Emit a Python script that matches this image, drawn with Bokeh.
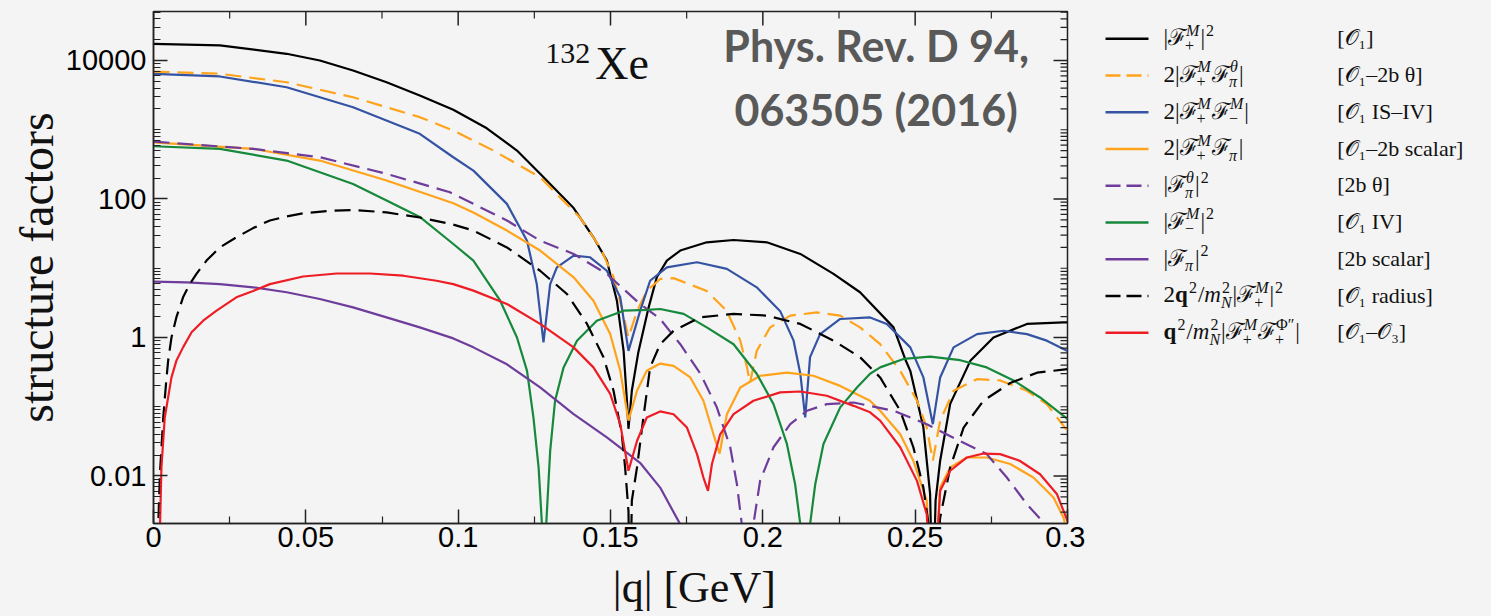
import numpy as np
from bokeh.plotting import figure
from bokeh.models import (Range1d, FixedTicker, Label, ColumnDataSource, CustomJSTickFormatter)
from bokeh.layouts import row, column
from bokeh.embed import file_html
from bokeh.resources import INLINE
from bokeh.core.properties import value, field

BG = "#f4f4f4"

# ---------------- data ----------------
q_Fp2 = [0, 0.0218, 0.0437, 0.0546, 0.0655, 0.0765, 0.0874, 0.0984, 0.1094, 0.1193, 0.1269, 0.1379,
         0.1444, 0.1488, 0.1521, 0.1543, 0.1554, 0.1559, 0.157, 0.1591, 0.1625, 0.1652, 0.1685, 0.1729,
         0.1816, 0.1904, 0.2013, 0.2123, 0.2232, 0.2319, 0.2429, 0.2467, 0.2484, 0.2527, 0.2549, 0.2558,
         0.2567, 0.2582, 0.2615, 0.2681, 0.2757, 0.2867, 0.2987, 0.3]
v_Fp2 = [17400, 16500, 12500, 10000, 7160, 4850, 3120, 1940, 1050, 500, 231, 74,
         28, 12.9, 3.4, 0.64, 0.122, 0.048, 0.17, 0.60, 2.7, 7.4, 12.9, 18,
         23.7, 25.6, 23.7, 16.1, 8.3, 4.5, 1.40, 0.49, 0.33, 0.05, 0.0055, 0.0001,
         0.0044, 0.0166, 0.11, 0.46, 1.0, 1.57, 1.65, 1.65]

q_FpFth = [0, 0.0218, 0.0437, 0.0655, 0.0874, 0.0984, 0.1116, 0.1269, 0.14, 0.1466, 0.151, 0.1537,
           0.1559, 0.1587, 0.1619, 0.1663, 0.1707, 0.1816, 0.1882, 0.1926, 0.1948, 0.1958, 0.198,
           0.2024, 0.209, 0.2177, 0.2254, 0.2319, 0.2385, 0.2451, 0.2506, 0.2538, 0.2558, 0.2582,
           0.2626, 0.2703, 0.2779, 0.2867, 0.2932, 0.2987, 0.3]
v_FpFth = [6930, 6430, 4850, 2950, 1520, 973, 500, 206, 54, 20, 7.4, 2.7,
           1.0, 2.4, 4.7, 7.0, 7.2, 4.7, 2.4, 0.90, 0.37, 0.22, 0.64,
           1.40, 2.07, 2.3, 2.07, 1.40, 0.80, 0.33, 0.122, 0.050, 0.0166, 0.063,
           0.17, 0.25, 0.24, 0.17, 0.109, 0.053, 0.045]

q_FpFm = [0, 0.0218, 0.0437, 0.0655, 0.0874, 0.0984, 0.105, 0.116, 0.1226, 0.1258, 0.128, 0.1302,
          0.1324, 0.1379, 0.1433, 0.1488, 0.1532, 0.1559, 0.1597, 0.163, 0.1685, 0.1784, 0.1882,
          0.198, 0.2057, 0.2101, 0.2123, 0.2139, 0.2155, 0.2188, 0.2254, 0.2352, 0.2407, 0.2484,
          0.2527, 0.2558, 0.2582, 0.2626, 0.2703, 0.279, 0.2867, 0.2932, 0.3]
v_FpFm = [6430, 5880, 4110, 2110, 873, 401, 257, 85, 25, 5.9, 0.85, 5.9,
          10.3, 15.2, 14.4, 9.2, 3.8, 0.64, 2.4, 6.6, 10.3, 12.2, 9.8,
          5.3, 2.4, 0.90, 0.30, 0.070, 0.52, 1.12, 1.85, 1.95, 1.57, 0.72,
          0.265, 0.056, 0.265, 0.72, 1.12, 1.25, 1.12, 0.90, 0.64]

q_FpFpi = [0, 0.0327, 0.0546, 0.0765, 0.0984, 0.105, 0.116, 0.1269, 0.1379, 0.1444, 0.1499, 0.1532,
           0.1559, 0.1587, 0.1619, 0.1663, 0.1707, 0.1762, 0.1805, 0.1838, 0.1858, 0.1882, 0.1926,
           0.1991, 0.2079, 0.2166, 0.2254, 0.2352, 0.2385, 0.2451, 0.2494, 0.2538, 0.2558, 0.2582,
           0.2615, 0.267, 0.2735, 0.2812, 0.2888, 0.2954, 0.2987, 0.3]
v_FpFpi = [659, 530, 359, 185, 87, 64, 35, 18, 7.4, 3.4, 1.12, 0.33,
           0.063, 0.17, 0.33, 0.42, 0.39, 0.265, 0.122, 0.040, 0.021, 0.078, 0.19,
           0.28, 0.31, 0.28, 0.20, 0.122, 0.0875, 0.040, 0.0166, 0.0044, 0.0001, 0.0068,
           0.0133, 0.0185, 0.0185, 0.0149, 0.0095, 0.0049, 0.0025, 0.0015]

q_Fth2 = [0, 0.0327, 0.0546, 0.0765, 0.0973, 0.105, 0.116, 0.1269, 0.1379, 0.1488, 0.1597, 0.1663,
          0.1729, 0.1795, 0.1849, 0.1893, 0.1915, 0.1931, 0.1949, 0.1969, 0.1991, 0.2035, 0.209,
          0.2145, 0.221, 0.2298, 0.2429, 0.2538, 0.2647, 0.2735, 0.2801, 0.2867, 0.2916, 0.2943]
v_Fth2 = [675, 530, 401, 231, 125, 85, 49, 25, 16.1, 8.3, 3.05, 1.85,
          0.80, 0.30, 0.098, 0.026, 0.0076, 0.002, 0.0001, 0.002, 0.0085, 0.026, 0.056,
          0.0875, 0.109, 0.115, 0.0875, 0.056, 0.032, 0.0207, 0.0095, 0.0039, 0.00225, 0.0015]

q_Fm2 = [0, 0.0218, 0.0437, 0.0655, 0.0765, 0.0874, 0.0984, 0.105, 0.1138, 0.1193, 0.1226, 0.1247,
         0.1264, 0.1275, 0.1282, 0.1289, 0.1302, 0.1318, 0.1346, 0.139, 0.1455, 0.1543, 0.1619,
         0.1663, 0.174, 0.1816, 0.1904, 0.198, 0.2035, 0.2079, 0.2106, 0.2123, 0.2139, 0.2155,
         0.2172, 0.2199, 0.2254, 0.2309, 0.2352, 0.2385, 0.2462, 0.2549, 0.2648, 0.2735, 0.2823,
         0.291, 0.2987, 0.3]
v_Fm2 = [578, 530, 359, 165, 95, 55, 22.4, 12.9, 3.4, 1.0, 0.33, 0.070,
         0.0133, 0.002, 0.0001, 0.002, 0.023, 0.122, 0.37, 0.90, 1.75, 2.44, 2.5,
         2.58, 2.19, 1.40, 0.80, 0.30, 0.109, 0.029, 0.0076, 0.002, 0.0001, 0.002,
         0.0076, 0.029, 0.098, 0.19, 0.30, 0.37, 0.49, 0.53, 0.47, 0.37, 0.24,
         0.136, 0.074, 0.066]

q_Fpi2 = [0, 0.0108, 0.0218, 0.0327, 0.0437, 0.0546, 0.0655, 0.0765, 0.0874, 0.0984, 0.105, 0.116,
          0.1269, 0.1379, 0.1488, 0.1597, 0.1663, 0.1729, 0.1762]
v_Fpi2 = [6.4, 6.25, 5.9, 5.3, 4.5, 3.6, 2.72, 1.95, 1.40, 0.97, 0.72, 0.41,
          0.19, 0.078, 0.036, 0.0155, 0.0068, 0.002, 0.001]

q_rad = [0.0008, 0.0015, 0.0021, 0.0032, 0.0041, 0.0048, 0.0059, 0.0075, 0.0097, 0.0119, 0.0141,
         0.0174, 0.0218, 0.0272, 0.0327, 0.0382, 0.0437, 0.0491, 0.0568,
         0.0655, 0.0765, 0.0874, 0.0984, 0.105, 0.116, 0.1269, 0.1357, 0.1423, 0.1477, 0.151,
         0.1537, 0.1548, 0.1559, 0.1564, 0.157, 0.1587, 0.1608, 0.163, 0.1663, 0.1707, 0.1794,
         0.1904, 0.2013, 0.2123, 0.2232, 0.2319, 0.2385, 0.2451, 0.2494, 0.2527, 0.2544, 0.2558,
         0.2582, 0.2615, 0.2659, 0.2724, 0.2812, 0.29, 0.3]
v_rad = [0.0005, 0.0016, 0.0106, 0.070, 0.213, 0.46, 1.0, 1.95, 3.8, 5.9, 8.3,
         12.9, 20, 28, 38, 49, 56, 62, 67,
         69.5, 64, 54, 42.7, 35, 20, 9.2, 4.25, 1.57, 0.52, 0.17,
         0.040, 0.0133, 0.0031, 0.0001, 0.0044, 0.0133, 0.070, 0.37, 0.80, 1.25, 1.95,
         2.19, 2.07, 1.57, 0.90, 0.52, 0.265, 0.0875, 0.026, 0.0068, 0.002, 0.0001,
         0.0025, 0.0133, 0.050, 0.122, 0.22, 0.31, 0.35]

q_O3 = [0.0012, 0.0021, 0.0026, 0.0037, 0.0059, 0.0075, 0.0097, 0.0125, 0.0163, 0.0207, 0.0272,
        0.0327, 0.0382, 0.0491, 0.0601,
        0.071, 0.082, 0.0929, 0.0984, 0.105, 0.116, 0.1269, 0.1379, 0.1444, 0.1499, 0.1532,
        0.1559, 0.1587, 0.1619, 0.1663, 0.1707, 0.1751, 0.1784, 0.1805, 0.182, 0.1833, 0.186,
        0.1904, 0.1969, 0.2057, 0.2123, 0.221, 0.2298, 0.2352, 0.2385, 0.2451, 0.2506, 0.2538,
        0.2558, 0.2582, 0.2615, 0.267, 0.2724, 0.2779, 0.2843, 0.291, 0.2965, 0.3]
v_O3 = [0.0004, 0.0016, 0.0133, 0.070, 0.265, 0.46, 0.72, 1.19, 1.75, 2.44, 3.8,
        4.7, 5.9, 7.6, 8.4,
        8.4, 7.8, 6.6, 5.9, 4.75, 3.05, 1.57, 0.72, 0.37, 0.153, 0.056,
        0.0119, 0.032, 0.070, 0.0855, 0.078, 0.050, 0.0207, 0.0095, 0.0061, 0.0149, 0.040,
        0.078, 0.122, 0.161, 0.166, 0.144, 0.103, 0.083, 0.063, 0.026, 0.0085, 0.0028,
        0.0001, 0.0061, 0.0119, 0.0185, 0.0211, 0.0207, 0.0166, 0.0106, 0.0055, 0.00225]

x_ticks = [0, 0.05, 0.1, 0.15, 0.2, 0.25, 0.3]
x_minor = [0.025, 0.075, 0.125, 0.175, 0.225, 0.275]
y_ticks = [0.01, 1, 100, 10000]

col2_labels = ["[𝒪₁]", "[𝒪₁–2b θ]", "[𝒪₁ IS–IV]", "[𝒪₁–2b scalar]", "[2b θ]",
               "[𝒪₁ IV]", "[2b scalar]", "[𝒪₁ radius]", "[𝒪₁–𝒪₃]"]

series = [
    (q_Fp2, v_Fp2, "#000000", "solid"),
    (q_FpFth, v_FpFth, "#FFA31A", "16 8"),
    (q_FpFm, v_FpFm, "#3553A3", "solid"),
    (q_FpFpi, v_FpFpi, "#FFA31A", "solid"),
    (q_Fth2, v_Fth2, "#6E3D9B", "16 8"),
    (q_Fm2, v_Fm2, "#16893B", "solid"),
    (q_Fpi2, v_Fpi2, "#6E3D9B", "solid"),
    (q_rad, v_rad, "#000000", "16 8"),
    (q_O3, v_O3, "#EE1D25", "solid"),
]

# ---------------- main plot ----------------
X0, X1 = 0.0, 0.3
Y0, Y1 = 0.00206, 51000
FW, FH = 914, 512
PW, PH = 1085, 562
SH = 0.36  # baseline correction (fraction of font size)
dec_per_px = (np.log10(Y1) - np.log10(Y0)) / FH
q_per_px = (X1 - X0) / FW


def up(yv, px):
    return yv * 10 ** (px * dec_per_px)


p = figure(width=PW, height=PH, x_range=Range1d(X0, X1), y_range=Range1d(Y0, Y1),
           y_axis_type="log", output_backend="svg", toolbar_location=None, title_location=None,
           min_border_left=153, min_border_right=18, min_border_top=11, min_border_bottom=PH - 523,
           background_fill_color=BG, border_fill_color=BG)
p.grid.visible = False
p.outline_line_color = "#222222"
p.outline_line_width = 1.5

for qs, vs, col, dash in series:
    p.line(qs, vs, line_color=col, line_width=2.2, line_dash=dash)

y_minor = []
for k in range(-3, 5):
    for m in range(1, 10):
        t = m * 10.0 ** k
        if t not in y_ticks and Y0 <= t <= Y1:
            y_minor.append(t)


def style_axis(ax):
    ax.major_tick_in = 14
    ax.major_tick_out = 0
    ax.minor_tick_in = 7
    ax.minor_tick_out = 0
    ax.axis_line_color = "#222222"
    ax.axis_line_width = 1.5
    ax.major_tick_line_color = "#222222"
    ax.minor_tick_line_color = "#222222"
    ax.major_tick_line_width = 1.5
    ax.minor_tick_line_width = 1.2
    ax.major_label_text_font = "Liberation Sans"
    ax.major_label_text_color = "#000000"
    ax.major_label_text_font_size = "29px"


xa = p.xaxis[0]
xa.ticker = FixedTicker(ticks=x_ticks, minor_ticks=x_minor)
xa.formatter = CustomJSTickFormatter(code="return parseFloat(tick.toFixed(3)).toString();")
style_axis(xa)
xa.major_label_standoff = 3
ya = p.yaxis[0]
ya.ticker = FixedTicker(ticks=y_ticks, minor_ticks=y_minor)
ya.formatter = CustomJSTickFormatter(
    code="return tick >= 1 ? Math.round(tick).toString() : parseFloat(tick.toPrecision(3)).toString();")
style_axis(ya)
ya.major_label_standoff = 7
ya.axis_label = "structure factors"
ya.axis_label_text_font = "Liberation Serif"
ya.axis_label_text_font_style = "normal"
ya.axis_label_text_font_size = "48px"
ya.axis_label_text_color = "#111111"
ya.axis_label_standoff = 0

# mirrored inward ticks on the top and right frame edges
p.segment(x0=x_ticks, y0=[Y1] * len(x_ticks), x1=x_ticks,
          y1=[Y1 / 10 ** (14 * dec_per_px)] * len(x_ticks), line_color="#222222", line_width=1.5)
p.segment(x0=x_minor, y0=[Y1] * len(x_minor), x1=x_minor,
          y1=[Y1 / 10 ** (7 * dec_per_px)] * len(x_minor), line_color="#222222", line_width=1.2)
p.segment(x0=[X1] * len(y_ticks), y0=y_ticks, x1=[X1 - 14 * q_per_px] * len(y_ticks), y1=y_ticks,
          line_color="#222222", line_width=1.5)
p.segment(x0=[X1] * len(y_minor), y0=y_minor, x1=[X1 - 7 * q_per_px] * len(y_minor), y1=y_minor,
          line_color="#222222", line_width=1.2)

p.add_layout(Label(x=0.1286, y=up(8960, SH * 30), text="132", text_font="Liberation Serif",
                   text_font_size="30px", text_color="#111111", text_baseline="alphabetic"))
p.add_layout(Label(x=0.145, y=up(5140, SH * 46), text="Xe", text_font="Liberation Serif",
                   text_font_size="46px", text_color="#111111", text_baseline="alphabetic"))
p.add_layout(Label(x=0.2372, y=up(8000, SH * 43 + 6), text="Phys. Rev. D 94,", text_align="center",
                   text_font="Lato", text_font_style="bold", text_font_size="43px",
                   text_color="#595959", text_baseline="alphabetic"))
p.add_layout(Label(x=0.2372, y=up(1188, SH * 43), text="063505 (2016)", text_align="center",
                   text_font="Lato", text_font_style="bold", text_font_size="43px",
                   text_color="#595959", text_baseline="alphabetic"))

# ---------------- x-axis title strip ----------------
XH = 616 - PH
xf = figure(width=PW, height=XH, x_range=Range1d(0, PW), y_range=Range1d(XH, 0),
            output_backend="svg", toolbar_location=None, title_location=None, min_border=0,
            min_border_left=0, min_border_right=0, min_border_top=0, min_border_bottom=0,
            x_axis_location=None, y_axis_location=None,
            background_fill_color=BG, border_fill_color=BG, outline_line_color=None)
xf.grid.visible = False
xf.text(x=[642], y=[41 - SH * 44], text=["|q| [GeV]"], text_font=value("Liberation Serif"),
        text_font_size="44px", text_align="center", text_baseline="alphabetic",
        text_color="#111111")

# ---------------- legend panel ----------------
LW = 1491 - PW
lg = figure(width=LW, height=616, x_range=Range1d(0, LW), y_range=Range1d(616, 0),
            output_backend="svg", toolbar_location=None, title_location=None, min_border=0,
            min_border_left=0, min_border_right=0, min_border_top=0, min_border_bottom=0,
            x_axis_location=None, y_axis_location=None,
            background_fill_color=BG, border_fill_color=BG, outline_line_color=None)
lg.grid.visible = False

row_y = [38.3 + 36.75 * i for i in range(9)]
for (qs, vs, col, dash), yy in zip(series, row_y):
    lg.segment(x0=[20], y0=[yy], x1=[63], y1=[yy], line_color=col, line_width=2.6,
               line_dash=("15 6" if dash != "solid" else dash))

CW = {'|': 0.2, '2': 0.5, '/': 0.28, 'm': 0.72, 'q': 0.56, '+': 0.56, '−': 0.56, 'π': 0.55,
      'θ': 0.5, 'M': 0.83, 'N': 0.67, 'Φ': 0.76, '″': 0.38, 'ℱ': 0.74}


def tw(s, size):
    return sum(CW.get(c, 0.55) for c in s) * size


N_, I_, B_ = "normal", "italic", "bold"
F_pM = ("ℱ", N_, ("+", N_), ("M", I_))
F_mM = ("ℱ", N_, ("−", N_), ("M", I_))
F_pith = ("ℱ", N_, ("π", I_), ("θ", I_))
F_pi = ("ℱ", N_, ("π", I_), None)
BAR = ("|", N_, None, None)
BAR2 = ("|", N_, None, ("2", N_))
TWO_BAR = ("2|", N_, None, None)
Q2 = ("q", B_, None, ("2", N_))
SLASH = ("/", N_, None, None)
MN2 = ("m", I_, ("N", I_), ("2", N_))
col1_atoms = [
    [BAR, F_pM, BAR2],
    [TWO_BAR, F_pM, F_pith, BAR],
    [TWO_BAR, F_pM, F_mM, BAR],
    [TWO_BAR, F_pM, F_pi, BAR],
    [BAR, F_pith, BAR2],
    [BAR, F_mM, BAR2],
    [BAR, F_pi, BAR2],
    [("2", N_, None, None), Q2, SLASH, MN2, BAR, F_pM, BAR2],
    [Q2, SLASH, MN2, BAR, F_pM, ("ℱ", N_, ("+", N_), ("Φ″", N_)), BAR],
]

MS, SS, CS = 23, 16, 22
tx, ty, tt, tsz, tst = [], [], [], [], []
for atoms, yy in zip(col1_atoms, row_y):
    base = yy + 7
    x = 78.0
    for text, st, sub, sup in atoms:
        tx.append(x); ty.append(base - SH * MS); tt.append(text); tsz.append(f"{MS}px"); tst.append(st)
        x += tw(text, MS)
        adv = 0
        if sup:
            tx.append(x + 1); ty.append(base - 10 - SH * SS); tt.append(sup[0])
            tsz.append(f"{SS}px"); tst.append(sup[1])
            adv = max(adv, tw(sup[0], SS) + 1)
        if sub:
            tx.append(x); ty.append(base + 5 - SH * SS); tt.append(sub[0])
            tsz.append(f"{SS}px"); tst.append(sub[1])
            adv = max(adv, tw(sub[0], SS))
        x += adv + (1 if adv else 0)
for lab, yy in zip(col2_labels, row_y):
    tx.append(251.7); ty.append(yy + 7 - SH * CS); tt.append(lab); tsz.append(f"{CS}px"); tst.append(N_)

src = ColumnDataSource(dict(x=tx, y=ty, text=tt, size=tsz, style=tst))
lg.text(x="x", y="y", text="text", source=src, text_font=value("Liberation Serif"),
        text_font_size=field("size"), text_font_style=field("style"),
        text_baseline="alphabetic", text_align="left", text_color="#111111")

left = column(p, xf, spacing=0, styles={"background-color": BG})
layout = row(left, lg, spacing=0, styles={"background-color": BG})
open("out.html", "w").write(file_html(layout, INLINE))
